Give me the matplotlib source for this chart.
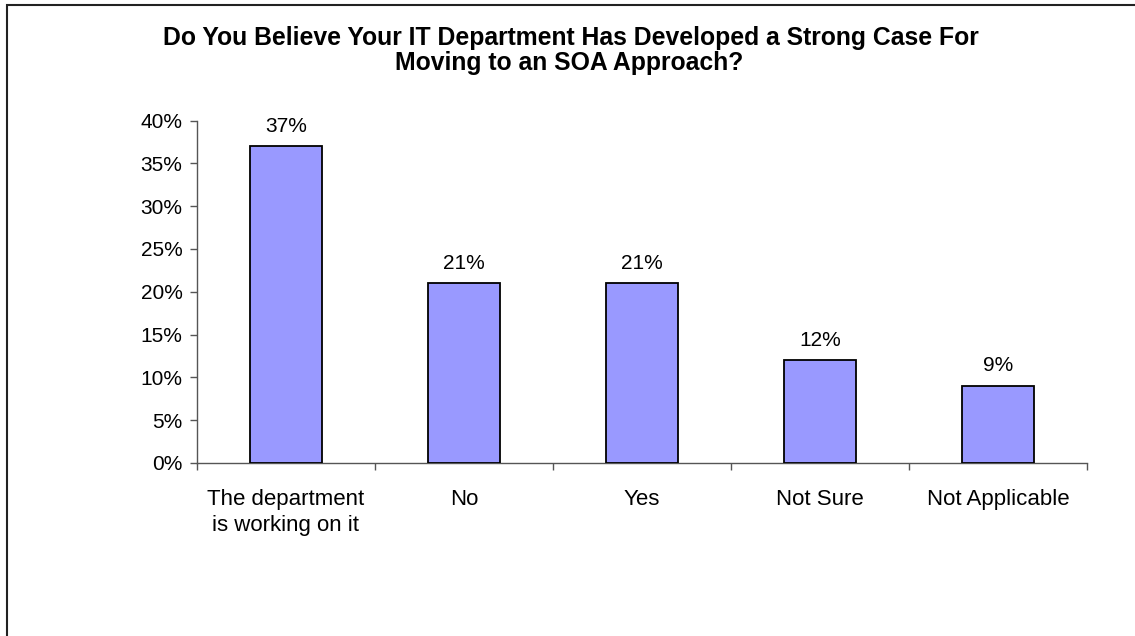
import matplotlib
matplotlib.use("Agg")
import matplotlib.pyplot as plt
from matplotlib.patches import Rectangle
from matplotlib.ticker import FixedLocator, FuncFormatter

categories = ["The department\nis working on it", "No", "Yes", "Not Sure", "Not Applicable"]
values = [37, 21, 21, 12, 9]
yticks = [0, 5, 10, 15, 20, 25, 30, 35, 40]
title_lines = ["Do You Believe Your IT Department Has Developed a Strong Case For",
               "Moving to an SOA Approach?"]

plt.rcParams['font.family'] = ['Liberation Sans', 'DejaVu Sans']

W, H = 1135, 636
fig = plt.figure(figsize=(W/100, H/100), dpi=100)
# outer frame (left/top visible)
fig.patches.append(Rectangle((7/W, -0.1), 1.2, (H-5)/H + 0.1, transform=fig.transFigure,
                             fill=False, edgecolor='#222222', linewidth=1.5))

ax = fig.add_axes([197/W, 1 - 463/H, (1087-197)/W, (463-120.5)/H])
x = list(range(len(categories)))
ax.bar(x, values, width=0.41, color='#9999FF', edgecolor='black', linewidth=1.3, zorder=3)
for xi, v in zip(x, values):
    ax.annotate(f"{v}%", (xi, v), xytext=(0, 10.5), textcoords='offset points',
                ha='center', va='baseline', fontsize=15)

ax.set_xlim(-0.5, len(categories) - 0.5)
ax.set_ylim(0, 40)
ax.set_yticks(yticks)
ax.yaxis.set_major_formatter(FuncFormatter(lambda v, p: f"{int(v)}%"))
ax.set_xticks(x)
ax.set_xticklabels(categories, fontsize=16, linespacing=1.27)
ax.xaxis.set_minor_locator(FixedLocator([i - 0.5 for i in range(len(categories) + 1)]))
ax.tick_params(axis='x', which='major', length=0, pad=19)
ax.tick_params(axis='x', which='minor', length=5, direction='out', color='#555555', width=1)
ax.tick_params(axis='y', labelsize=15, length=5, direction='out', color='#555555', width=1, pad=5.5)
for s in ['top', 'right']:
    ax.spines[s].set_visible(False)
for s in ['left', 'bottom']:
    ax.spines[s].set_color('#555555')
    ax.spines[s].set_linewidth(1)

fig.text(571/W, 1 - 45/H, title_lines[0], ha='center', va='baseline', fontsize=17.8,
         fontweight='bold')
fig.text(569/W, 1 - 70/H, title_lines[1], ha='center', va='baseline', fontsize=17.8,
         fontweight='bold')

fig.savefig("out.png", dpi=100)
